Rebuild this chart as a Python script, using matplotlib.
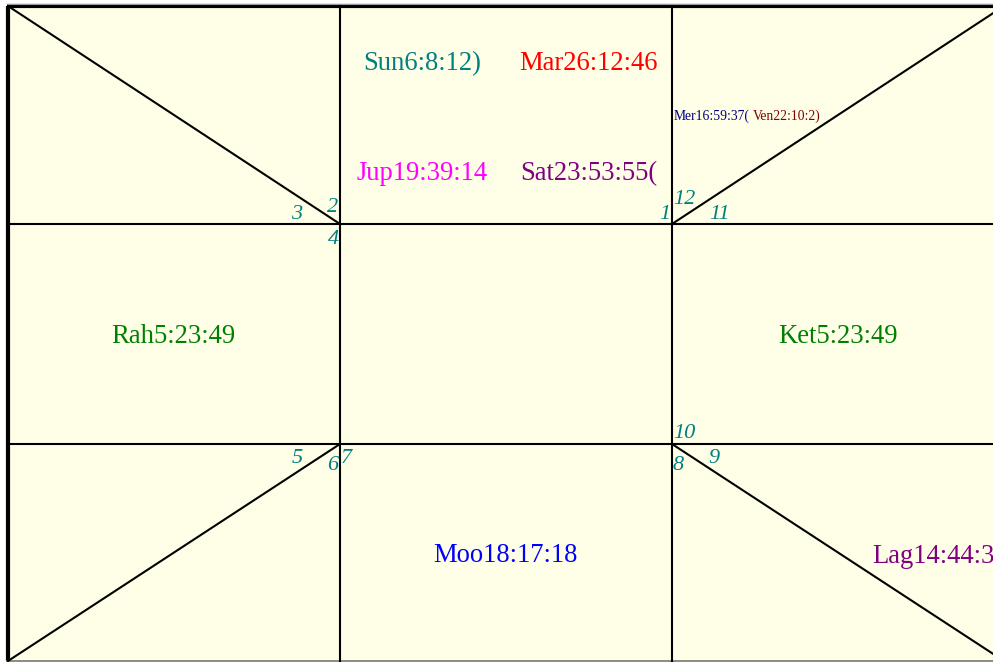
import matplotlib
matplotlib.use("Agg")
import matplotlib.pyplot as plt

# ---- data ----
planets = ["Sun6:8:12)", "Mar26:12:46", "Jup19:39:14", "Sat23:53:55(",
           "Rah5:23:49", "Ket5:23:49", "Moo18:17:18", "Lag14:44:3"]
planet_colors = ["#008080", "#FF0000", "#FF00FF", "#800080",
                 "#008000", "#008000", "#0000FF", "#800080"]
small_labels = ["Mer16:59:37(", "Ven22:10:2)"]
small_colors = ["#000080", "#800000"]
house_numbers = ["1", "2", "3", "4", "5", "6", "7", "8", "9", "10", "11", "12"]

W, H = 993, 662
fig = plt.figure(figsize=(W / 100, H / 100), dpi=100)
ax = fig.add_axes([0, 0, 1, 1])
ax.set_xlim(0, W)
ax.set_ylim(H, 0)
ax.axis("off")
fig.patch.set_facecolor("white")

L, T, R, B = 8, 6, 1004, 661
x1, x2 = 340, 672
y1, y2 = 224, 444
bg = "#FFFFE8"
ax.add_patch(plt.Rectangle((L, T), R - L, B - T, facecolor=bg, edgecolor="none", zorder=0))

lc = "black"
lw = 1.5
# frame
ax.plot([L, L], [T, B], color=lc, lw=3, solid_capstyle="butt")
ax.plot([L - 1, R], [T, T], color=lc, lw=3, solid_capstyle="butt")
ax.plot([L - 1, W], [T - 2.5, T - 2.5], color="#999999", lw=0.8)
ax.plot([L - 1, W], [B, B], color="#777777", lw=1.2)
# grid
ax.plot([x1, x1], [T, B], color=lc, lw=lw)
ax.plot([x2, x2], [T, B], color=lc, lw=lw)
ax.plot([L, R], [y1, y1], color=lc, lw=lw)
ax.plot([L, R], [y2, y2], color=lc, lw=lw)
# diagonals
ax.plot([L, x1], [T, y1], color=lc, lw=lw)
ax.plot([x2, R], [y1, T], color=lc, lw=lw)
ax.plot([x1, L], [y2, B], color=lc, lw=lw)
ax.plot([x2, R], [y2, B], color=lc, lw=lw)

serif = "Liberation Serif"
fs = 19.2
pos = [(422, 63.5, "center"), (588, 63.5, "center"), (422, 173.5, "center"), (589, 173.5, "center"),
       (173, 336.5, "center"), (838, 336.5, "center"), (505, 555.5, "center"), (872, 556.5, "left")]
for txt, c, (x, y, ha) in zip(planets, planet_colors, pos):
    ax.text(x, y, txt, color=c, fontsize=fs, family=serif, ha=ha, va="center")

ax.text(674, 116, small_labels[0], color=small_colors[0], fontsize=9.8, family=serif,
        ha="left", va="center")
ax.text(753, 116, small_labels[1], color=small_colors[1], fontsize=9.8, family=serif,
        ha="left", va="center")

npos = {"1": (665, 213), "2": (333, 206), "3": (297, 213), "4": (333, 238),
        "5": (297, 457), "6": (333, 464), "7": (346, 457), "8": (678, 464),
        "9": (714, 457), "10": (684, 432), "11": (720, 213), "12": (684, 198)}
for n in house_numbers:
    x, y = npos[n]
    ax.text(x, y + 1.5, n, color="#008080", fontsize=16, family=serif, style="italic",
            ha="center", va="center")

fig.savefig("out.png", dpi=100, facecolor="white")
